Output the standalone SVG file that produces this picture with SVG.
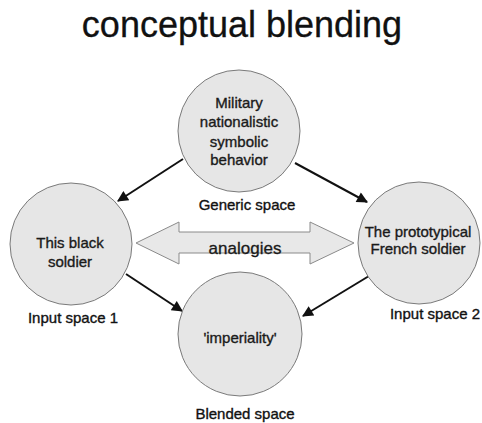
<svg xmlns="http://www.w3.org/2000/svg" width="482" height="423" viewBox="0 0 482 423">
<style>
.c{fill:#e6e6e6;stroke:#7a7a7a;stroke-width:1}
.t{font-family:"Liberation Sans",Arial,sans-serif;font-size:15px;fill:#1a1a1a;stroke:#1a1a1a;stroke-width:0.35;text-anchor:middle}
.l{font-family:"Liberation Sans",Arial,sans-serif;font-size:15px;fill:#111;stroke:#111;stroke-width:0.35;text-anchor:middle}
.a{stroke:#111;stroke-width:2;fill:none;marker-end:url(#ah)}
</style>
<defs>
<marker id="ah" viewBox="0 0 10 10" refX="9" refY="5" markerWidth="6.5" markerHeight="5.5" orient="auto" markerUnits="strokeWidth">
<path d="M0,0 L10,5 L0,10 z" fill="#111"/>
</marker>
</defs>
<rect width="482" height="423" fill="#fff"/>
<text x="242" y="37" font-family="Liberation Sans, Arial, sans-serif" font-size="36" fill="#111" stroke="#111" stroke-width="0.3" text-anchor="middle">conceptual blending</text>

<g id="connectors">
<line class="a" x1="183" y1="159" x2="118" y2="201"/>
<line class="a" x1="295" y1="163" x2="367" y2="202"/>
<line class="a" x1="126" y1="274" x2="182" y2="311"/>
<line class="a" x1="369" y1="276" x2="303" y2="316"/>
</g>

<g id="analogies">
<polygon points="136,243 179,222 179,232 310,232 310,222 354,243 310,264 310,253 179,253 179,264" fill="#e8e8e8" stroke="#8a8a8a" stroke-width="1"/>
<text x="245" y="254" font-family="Liberation Sans, Arial, sans-serif" font-size="17" fill="#1a1a1a" stroke="#1a1a1a" stroke-width="0.3" text-anchor="middle">analogies</text>
</g>

<g id="generic">
<circle class="c" cx="239" cy="131" r="61"/>
<text class="t" x="239" y="108">Military</text>
<text class="t" x="239" y="127">nationalistic</text>
<text class="t" x="239" y="147">symbolic</text>
<text class="t" x="239" y="165">behavior</text>
<text class="l" x="247" y="210">Generic space</text>
</g>

<g id="input1">
<circle class="c" cx="71" cy="244" r="61"/>
<text class="t" x="70" y="248">This black</text>
<text class="t" x="70" y="267">soldier</text>
<text class="l" x="73" y="323">Input space 1</text>
</g>

<g id="input2">
<circle class="c" cx="419" cy="243" r="61"/>
<text class="t" x="418" y="237">The prototypical</text>
<text class="t" x="418" y="254">French soldier</text>
<text class="l" x="435" y="319">Input space 2</text>
</g>

<g id="blended">
<circle class="c" cx="240" cy="334" r="62"/>
<text class="t" x="240" y="343">'imperiality'</text>
<text class="l" x="245" y="419">Blended space</text>
</g>
</svg>
